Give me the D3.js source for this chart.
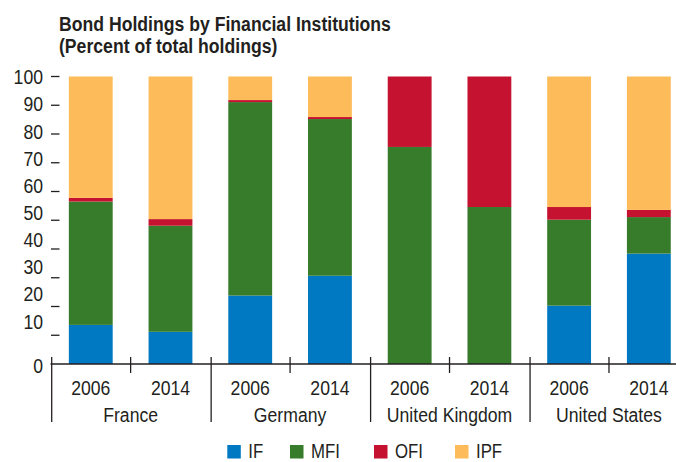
<!DOCTYPE html>
<html>
<head>
<meta charset="utf-8">
<script src="https://cdn.jsdelivr.net/npm/d3@7"></script>
<style>
	body { margin: 0; background: #fff; }
	svg { display: block; font-family: "Liberation Sans", Arial, sans-serif; }
	text { fill: #231f20; }
</style>
</head>
<body>
<div id="chart"></div>
<script>
	var countries = ["France", "Germany", "United Kingdom", "United States"];
	var years = ["2006", "2014"];
	var seriesNames = ["IF", "MFI", "OFI", "IPF"];
	var colors = ["#0079c2", "#367c2b", "#c41230", "#fdbc59"];
	var yTicks = [0, 10, 20, 30, 40, 50, 60, 70, 80, 90, 100];

	// one value per bar, in order France 2006, France 2014, Germany 2006 ...
	var IF  = [13.6, 11.2, 23.8, 30.7, 0,    0,    20.3, 38.4];
	var MFI = [42.9, 36.9, 67.3, 54.5, 75.5, 54.6, 29.9, 12.7];
	var OFI = [1.3,  2.3,  0.7,  0.7,  24.5, 45.4, 4.4,  2.5];
	var IPF = [42.2, 49.6, 8.2,  14.1, 0,    0,    45.4, 46.4];

	var width = 676, height = 462;
	var squeeze = 0.84; // the original uses a condensed face

	function place(x, y) {
		return "translate(" + x + "," + y + ") scale(" + squeeze + ",1)";
	}

	var rows = [];
	countries.forEach(function(c, ci) {
		years.forEach(function(yr, yi) {
			var i = ci * years.length + yi;
			rows.push({ key: c + "|" + yr, country: c, year: yr,
				IF: IF[i], MFI: MFI[i], OFI: OFI[i], IPF: IPF[i] });
		});
	});

	var svg = d3.select("#chart")
				.append("svg")
				.attr("width", width)
				.attr("height", height);

	var x = d3.scaleBand()
				.domain(rows.map(function(d) { return d.key; }))
				.range([50.9, 688.7])
				.paddingInner(0.45)
				.paddingOuter(0.225);

	var y = d3.scaleLinear().domain([0, 100]).range([364, 76.5]);
	// tick labels in the original sit slightly off their ticks
	var yLabel = d3.scaleLinear().domain([10, 100]).range([321, 76.7]);

	var color = d3.scaleOrdinal().domain(seriesNames).range(colors);

	var stack = d3.stack().keys(seriesNames)(rows);

	// title
	var title = svg.append("text")
				.attr("transform", place(59, 30.5))
				.style("font-weight", "bold")
				.style("font-size", "21px");
	title.append("tspan").attr("x", 0).text("Bond Holdings by Financial Institutions");
	title.append("tspan").attr("x", 0).attr("dy", 22.7).text("(Percent of total holdings)");

	// bars
	svg.append("g").selectAll("g")
		.data(stack)
		.enter()
		.append("g")
		.attr("fill", function(s) { return color(s.key); })
		.selectAll("rect")
		.data(function(s) { return s; })
		.enter()
		.append("rect")
		.attr("x", function(d) { return x(d.data.key); })
		.attr("width", x.bandwidth())
		.attr("y", function(d) { return y(d[1]); })
		.attr("height", function(d) { return y(d[0]) - y(d[1]); });

	// y ticks and labels
	var yAxis = svg.append("g");
	yAxis.selectAll("line")
		.data(yTicks.filter(function(v) { return v > 0; }))
		.enter()
		.append("line")
		.attr("x1", 51).attr("x2", 59.5)
		.attr("y1", function(v) { return y(v); })
		.attr("y2", function(v) { return y(v); })
		.attr("stroke", "#231f20")
		.attr("stroke-width", 1.3);

	yAxis.selectAll("text")
		.data(yTicks)
		.enter()
		.append("text")
		.attr("transform", function(v) { return place(43, v === 0 ? y(0) + 1 : yLabel(v)); })
		.attr("dy", "0.36em")
		.attr("text-anchor", "end")
		.style("font-size", "21px")
		.text(function(v) { return v; });

	// x axis
	var xAxis = svg.append("g");
	xAxis.append("line")
		.attr("x1", 50.5).attr("x2", width)
		.attr("y1", y(0)).attr("y2", y(0))
		.attr("stroke", "#231f20")
		.attr("stroke-width", 1.4);

	var step = x.step();
	var gap = step - x.bandwidth();

	// small ticks between years
	xAxis.selectAll("line.year")
		.data(countries)
		.enter()
		.append("line")
		.attr("class", "year")
		.attr("x1", function(c) { return x(c + "|2014") - gap / 2; })
		.attr("x2", function(c) { return x(c + "|2014") - gap / 2; })
		.attr("y1", 357).attr("y2", 373)
		.attr("stroke", "#231f20")
		.attr("stroke-width", 1.3);

	// group separators
	xAxis.selectAll("line.group")
		.data(countries)
		.enter()
		.append("line")
		.attr("class", "group")
		.attr("x1", function(c) { return x(c + "|2006") - gap / 2 + 0.8; })
		.attr("x2", function(c) { return x(c + "|2006") - gap / 2 + 0.8; })
		.attr("y1", 357).attr("y2", 422)
		.attr("stroke", "#231f20")
		.attr("stroke-width", 1.3);

	xAxis.selectAll("text.year")
		.data(rows)
		.enter()
		.append("text")
		.attr("class", "year")
		.attr("transform", function(d) { return place(x(d.key) + x.bandwidth() / 2, 395); })
		.attr("text-anchor", "middle")
		.style("font-size", "21px")
		.text(function(d) { return d.year; });

	xAxis.selectAll("text.country")
		.data(countries)
		.enter()
		.append("text")
		.attr("class", "country")
		.attr("transform", function(c) { return place(x(c + "|2006") + (step + x.bandwidth()) / 2, 421.5); })
		.attr("text-anchor", "middle")
		.style("font-size", "21px")
		.text(function(c) { return c; });

	// legend
	var legendX = [227.3, 290, 374, 455];
	var legend = svg.append("g").selectAll("g")
		.data(seriesNames)
		.enter()
		.append("g")
		.attr("transform", function(d, i) { return "translate(" + legendX[i] + ",445)"; });

	legend.append("rect")
		.attr("width", 13.5)
		.attr("height", 13.5)
		.attr("fill", function(d) { return color(d); });

	legend.append("text")
		.attr("transform", place(21, 12.5))
		.style("font-size", "20px")
		.text(function(d) { return d; });
</script>
</body>
</html>
